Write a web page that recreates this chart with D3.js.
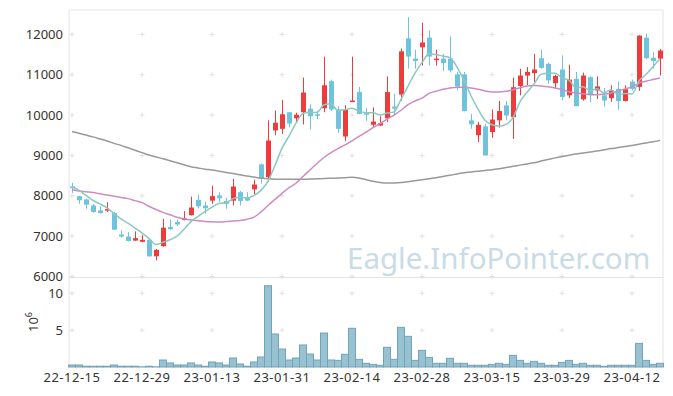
<!DOCTYPE html>
<html>
<head>
<meta charset="utf-8">
<script src="https://cdn.jsdelivr.net/npm/d3@7"></script>
<style>
  body { margin: 0; background: #fff; }
  text { font-family: "Noto Sans", sans-serif; }
  .tick-label { font-size: 13px; fill: #333; }
</style>
</head>
<body>
<div id="chart"></div>
<script>
// daily OHLC, 22-12-15 .. 23-04-18 (trading days)
const openP = [8230,7990,7910,7760,7640,7650,7570,7040,6990,6890, 6860,6910,6500,6750,7230,7350,7400,7520,7900,7760,
  7880,8010,7870,7880,8090,7970,8160,8780,8460,9620, 9660,10070,9920,10070,10160,10020,10170,10840,10140,9470,
  10340,10570,10070,9760,9740,9920,10210,10510,11900,11400, 11680,11920,11380,11400,11400,11010,11010,9870,9500,9720,
  9580,9870,10240,9950,10720,10980,11040,11410,11270,10790, 11130,10490,10900,10390,10940,10610,10490,10420,10650,10350,
  10830,10700,11920,11420,11400];
const highP = [8320,8000,7930,7800,7740,7840,7600,7140,7100,7120, 7020,6930,6680,7430,7410,7410,7620,7980,8030,7860,
  8250,8090,7950,8420,8120,8090,8400,8800,9870,10110, 10380,10080,10060,10930,10280,10110,11450,10880,10220,10240,
  11450,10700,10170,10190,9970,10960,10530,11650,12430,11620, 12290,12100,11620,11520,11950,11070,11070,10030,9830,9790,
  10140,10350,10350,10930,11150,11190,11520,11620,11300,11000, 11480,11250,11070,11050,10960,10960,10670,10740,10830,10740,
  10880,11980,12020,11560,11640];
const lowP = [8070,7800,7680,7580,7560,7600,7150,6960,6870,6880, 6850,6490,6400,6740,7160,7250,7390,7510,7690,7560,
  7800,7840,7680,7760,7760,7870,8040,8300,8340,9500, 9530,9700,9820,9770,9640,9900,10070,10100,9560,9350,
  10330,10020,9860,9710,9730,9830,9990,10360,11150,11150, 11230,11230,11230,11090,11060,10610,10090,9660,9330,9000,
  9440,9690,9870,9410,10490,10740,10820,11150,10780,10650, 10360,10420,10220,10360,10320,10400,10210,10330,10130,10340,
  10610,10600,11390,11150,10980];
const closeP = [8190,7890,7780,7600,7570,7670,7160,6990,6880,6950, 6910,6500,6660,7210,7170,7290,7440,7710,7740,7690,
  7990,7940,7800,8230,7870,7880,8280,8420,9370,9810, 10020,9790,10010,10560,9970,10000,10740,10140,9660,10140,
  10360,10030,10010,9840,9800,10570,10160,11580,11450,11340, 11800,11450,11400,11290,11110,10710,10100,9770,9760,9000,
  9890,10100,9990,10690,10980,11070,11130,11170,10860,10970, 10450,10880,10220,10980,10490,10710,10360,10610,10350,10640,
  10650,11970,11410,11340,11600];
// volume in 10^6 shares
const volume = [0.27,0.27,0.1,0.1,0.1,0.1,0.27,0.1,0.1,0.1, 0.03,0.1,0.03,0.95,0.55,0.27,0.27,0.55,0.27,0.1,
  0.68,0.55,0.27,1.22,0.41,0.1,0.68,1.36,11.03,4.48, 2.44,0.95,1.22,2.99,1.76,0.95,4.61,0.95,0.9,1.72,
  5.25,1.04,0.5,0.36,0.23,2.67,1.04,5.38,4.16,0.9, 2.26,1.31,0.5,0.5,1.18,0.5,0.5,0.23,0.23,0.23,
  0.36,0.5,0.36,1.58,0.9,0.5,0.77,0.5,0.23,0.23, 0.63,0.9,0.36,0.5,0.23,0.23,0.09,0.23,0.23,0.23,
  0.23,3.21,0.9,0.36,0.5];
// moving averages as drawn
const ma5 = [8231,8132,8008,7884,7800,7700,7560,7430,7320,7200, 7080,6940,6790,6850,6910,7000,7170,7360,7490,7610,
  7720,7810,7830,7930,7965,7945,8010,8135,8365,8750, 9180,9480,9800,10040,10070,10065,10255,10280,10110,10130,
  10170,10100,10060,10060,10000,10050,10080,10390,10720,11040, 11300,11520,11500,11460,11420,11190,10860,10480,10150,9870,
  9760,9730,9770,9935,10330,10565,10770,11010,11040,11040, 10915,10865,10675,10700,10605,10650,10550,10630,10505,10535,
  10520,10845,11005,11200,11395];
const ma20 = [8150,8120,8100,8080,8050,8020,7990,7960,7930,7880, 7830,7740,7660,7590,7530,7470,7430,7400,7380,7365,
  7355,7350,7360,7375,7390,7420,7470,7600,7760,7910, 8060,8200,8310,8480,8640,8800,8950,9070,9170,9260,
  9360,9470,9580,9690,9790,9900,10000,10120,10260,10350, 10420,10540,10590,10640,10670,10690,10690,10670,10640,10600,
  10570,10570,10590,10630,10680,10720,10735,10720,10700,10670, 10630,10580,10550,10530,10510,10505,10520,10550,10600,10650,
  10700,10790,10840,10880,10920];
const ma60 = [9595,9550,9505,9460,9410,9360,9300,9250,9190,9130, 9070,9010,8960,8920,8870,8820,8770,8720,8690,8660,
  8640,8610,8580,8550,8520,8490,8465,8440,8420,8410, 8410,8410,8410,8410,8415,8420,8430,8435,8440,8450,
  8460,8440,8400,8360,8330,8315,8320,8330,8350,8375, 8395,8420,8450,8480,8510,8540,8570,8590,8610,8630,
  8645,8670,8700,8730,8760,8790,8820,8860,8900,8940, 8975,9005,9035,9060,9085,9110,9140,9170,9195,9220,
  9245,9280,9310,9340,9370];

const xTickLabels = ['22-12-15','22-12-29','23-01-13','23-01-31','23-02-14','23-02-28','23-03-15','23-03-29','23-04-12'];
const priceTicks = [6000,7000,8000,9000,10000,11000,12000];
const volTicks = [5, 10];

class CandleChart {

    constructor(_parentElement) {
        this.parentElement = _parentElement;
        this.width = 673;
        this.height = 396;
        this.left = 69;
        this.right = 663;
        this.top = 10;
        this.priceBottom = 277;
        this.volBottom = 367;

        this.data = openP.map((o, i) => ({
            i: i, open: o, high: highP[i], low: lowP[i], close: closeP[i], vol: volume[i]
        }));

        this.initVis();
    }

    initVis() {
        let vis = this;

        vis.svg = d3.select("#" + vis.parentElement).append("svg")
            .attr("width", vis.width)
            .attr("height", vis.height);

        vis.x = d3.scaleLinear().domain([0, vis.data.length - 1]).range([72, 660]);
        vis.y = d3.scaleLinear().domain([6000, 12000]).range([276.5, 34.4]);
        vis.yVol = d3.scaleLinear().domain([0, 10]).range([vis.volBottom, 293.3]);
        vis.step = vis.x(1) - vis.x(0);

        vis.svg.append("clipPath").attr("id", "priceClip")
            .append("rect")
            .attr("x", vis.left).attr("y", vis.top)
            .attr("width", vis.right - vis.left).attr("height", vis.priceBottom - vis.top);

        vis.drawFrame();
        vis.drawWatermark();
        vis.drawVolume();
        vis.drawPrice();
        vis.drawAxes();
    }

    drawFrame() {
        let vis = this;
        let frame = vis.svg.append("g");

        frame.append("path")
            .attr("d", `M${vis.left},${vis.volBottom}V${vis.top}H${vis.right}V${vis.volBottom}`)
            .attr("fill", "none")
            .attr("stroke", "#e4e4e4");

        frame.append("line")
            .attr("x1", vis.left).attr("x2", vis.right)
            .attr("y1", vis.priceBottom + 0.5).attr("y2", vis.priceBottom + 0.5)
            .attr("stroke", "#e4e4e4");

        // little "+" markers at the grid crossings
        let xs = xTickLabels.map((d, k) => vis.x(k * 10));
        let ys = priceTicks.map(d => vis.y(d)).concat(volTicks.map(d => vis.yVol(d)));
        let crosses = [];
        xs.forEach(x => ys.forEach(y => crosses.push([x, y])));

        frame.selectAll(".cross").data(crosses).enter()
            .append("path")
            .attr("class", "cross")
            .attr("d", d => `M${d[0] - 2.5},${d[1]}h5M${d[0]},${d[1] - 2.5}v5`)
            .attr("stroke", "#e2e2e2")
            .attr("stroke-width", 1);
    }

    drawWatermark() {
        let vis = this;
        vis.svg.append("text")
            .attr("x", 347)
            .attr("y", 268.5)
            .style("font-size", "29.5px")
            .style("fill", "#c9dce6")
            .text("Eagle.InfoPointer.com");
    }

    drawVolume() {
        let vis = this;
        vis.svg.append("g").selectAll("rect").data(vis.data).enter()
            .append("rect")
            .attr("x", d => vis.x(d.i) - vis.step / 2)
            .attr("width", vis.step)
            .attr("y", d => vis.yVol(d.vol))
            .attr("height", d => vis.volBottom - vis.yVol(d.vol))
            .attr("fill", "#98c2d2")
            .attr("stroke", "#72a4b9")
            .attr("stroke-width", 1);
    }

    drawPrice() {
        let vis = this;
        let up = "#ee3b3b", down = "#6dc4dc";

        let g = vis.svg.append("g").attr("clip-path", "url(#priceClip)");

        let candles = g.selectAll(".candle").data(vis.data).enter()
            .append("g")
            .attr("class", "candle");

        candles.append("line")
            .attr("x1", d => Math.round(vis.x(d.i)) + 0.5)
            .attr("x2", d => Math.round(vis.x(d.i)) + 0.5)
            .attr("y1", d => vis.y(d.high))
            .attr("y2", d => vis.y(d.low))
            .attr("stroke", d => d.close >= d.open ? up : down)
            .attr("stroke-width", 1);

        candles.append("rect")
            .attr("x", d => Math.round(vis.x(d.i)) - 2)
            .attr("width", 5)
            .attr("y", d => vis.y(Math.max(d.open, d.close)))
            .attr("height", d => Math.max(1.5, Math.abs(vis.y(d.open) - vis.y(d.close))))
            .attr("fill", d => d.close >= d.open ? up : down);

        let line = series => d3.line()
            .x((d, i) => vis.x(i))
            .y(d => vis.y(d))
            .curve(d3.curveMonotoneX)(series);

        g.append("path").attr("d", line(ma60))
            .attr("fill", "none").attr("stroke", "#999").attr("stroke-width", 1.5);
        g.append("path").attr("d", line(ma20))
            .attr("fill", "none").attr("stroke", "#cc8cc3").attr("stroke-width", 1.5);
        g.append("path").attr("d", line(ma5))
            .attr("fill", "none").attr("stroke", "#8cc8c0").attr("stroke-width", 1.5);
    }

    drawAxes() {
        let vis = this;

        let yAxis = vis.svg.append("g");
        yAxis.selectAll("text").data(priceTicks).enter()
            .append("text")
            .attr("class", "tick-label")
            .attr("x", 63)
            .attr("y", d => vis.y(d))
            .attr("dy", "0.36em")
            .attr("text-anchor", "end")
            .text(d => d);

        yAxis.selectAll(".vol").data(volTicks).enter()
            .append("text")
            .attr("class", "tick-label vol")
            .attr("x", 63)
            .attr("y", d => vis.yVol(d))
            .attr("dy", "0.36em")
            .attr("text-anchor", "end")
            .text(d => d);

        let unit = vis.svg.append("text")
            .attr("class", "tick-label")
            .attr("transform", "translate(38,332) rotate(-90)");
        unit.append("tspan").text("10");
        unit.append("tspan").attr("dy", -6).style("font-size", "9px").text("6");

        vis.svg.append("g").selectAll("text").data(xTickLabels).enter()
            .append("text")
            .attr("class", "tick-label")
            .attr("x", (d, k) => vis.x(k * 10))
            .attr("y", 382)
            .attr("text-anchor", "middle")
            .style("letter-spacing", "0.5px")
            .text(d => d);
    }
}

new CandleChart("chart");
</script>
</body>
</html>
